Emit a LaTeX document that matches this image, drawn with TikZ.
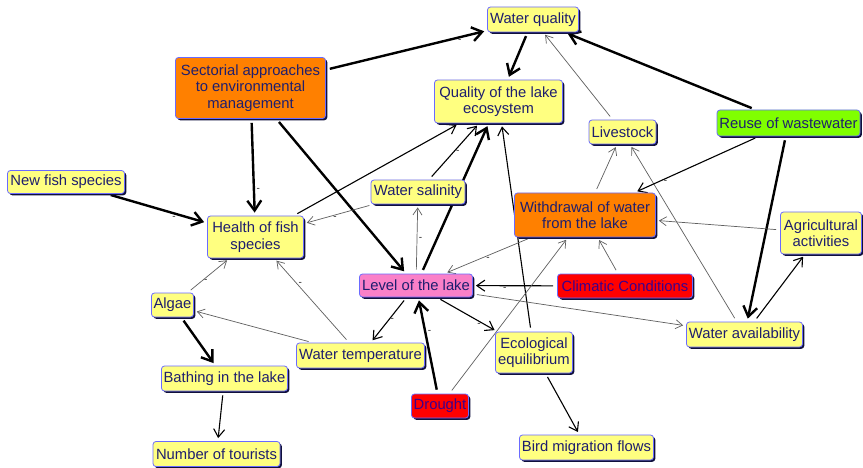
\documentclass[tikz,border=0pt]{standalone}
\usepackage{fontspec}
\setmainfont{Liberation Sans}
\usetikzlibrary{arrows.meta,shadows,backgrounds}
\definecolor{yel}{RGB}{255,255,128}
\definecolor{orng}{RGB}{255,128,0}
\definecolor{grn}{RGB}{128,255,0}
\definecolor{pnk}{RGB}{250,128,200}
\definecolor{rd}{RGB}{255,0,0}
\definecolor{bord}{RGB}{106,106,255}
\definecolor{txt}{RGB}{30,30,110}
\definecolor{txtr}{RGB}{60,0,140}
\definecolor{shd}{RGB}{16,16,60}
\definecolor{gry}{RGB}{95,95,95}
\tikzset{
  box/.style={draw=bord, line width=0.8pt, rounded corners=3pt, fill=yel, text=txt,
    font=\fontsize{14.8}{16.5}\selectfont, align=center, inner sep=1pt,
    drop shadow={shadow xshift=1.8pt, shadow yshift=-1.8pt, opacity=1, fill=shd}},
  orbox/.style={box, fill=orng},
  grbox/.style={box, fill=grn},
  pkbox/.style={box, fill=pnk},
  rdbox/.style={box, fill=rd, text=txtr},
  thk/.style={line width=2.4pt, black, shorten >=3pt, shorten <=4pt, -{Straight Barb[length=10pt,width=14pt]}},
  med/.style={line width=1.1pt, black, shorten >=3pt, shorten <=4pt, -{Straight Barb[length=8pt,width=11pt]}},
  thn/.style={line width=0.7pt, gry, shorten >=3pt, shorten <=4pt, -{Straight Barb[length=7pt,width=9pt]}},
  mk/.style={font=\fontsize{10}{10}\selectfont, text=black!85, inner sep=1.5pt},
}
\begin{document}
\begin{tikzpicture}[x=1pt,y=-1pt]
\useasboundingbox (0,0) rectangle (863,468);
% nodes
\node[box, minimum width=91pt, minimum height=25pt] (wq) at (533,19.5) {Water quality};
\node[orbox, minimum width=150pt, minimum height=61pt] (sect) at (250.5,88) {Sectorial approaches\\to environmental\\management};
\node[box, minimum width=128pt, minimum height=43pt] (qual) at (498.5,101.5) {Quality of the lake\\ecosystem};
\node[box, minimum width=67pt, minimum height=24pt] (live) at (622.5,132) {Livestock};
\node[grbox, minimum width=143pt, minimum height=26pt] (reuse) at (788.5,123) {Reuse of wastewater};
\node[box, minimum width=117pt, minimum height=23pt] (newfish) at (66,182) {New fish species};
\node[box, minimum width=96pt, minimum height=42pt] (health) at (255.5,237) {Health of fish\\species};
\node[box, minimum width=94pt, minimum height=24pt] (sal) at (418,192) {Water salinity};
\node[orbox, minimum width=141pt, minimum height=44pt] (withd) at (585,215) {Withdrawal of water\\from the lake};
\node[box, minimum width=81pt, minimum height=42pt] (agri) at (821,233) {Agricultural\\activities};
\node[pkbox, minimum width=113pt, minimum height=23pt] (level) at (416,285.5) {Level of the lake};
\node[rdbox, minimum width=135pt, minimum height=24pt] (clim) at (625,286) {Climatic Conditions};
\node[box, minimum width=42pt, minimum height=24pt] (algae) at (172.5,305) {Algae};
\node[box, minimum width=128pt, minimum height=25pt] (temp) at (360.5,355.5) {Water temperature};
\node[box, minimum width=77pt, minimum height=41pt] (eco) at (534,352.5) {Ecological\\equilibrium};
\node[box, minimum width=116pt, minimum height=25pt] (avail) at (744.5,334.5) {Water availability};
\node[box, minimum width=126pt, minimum height=25pt] (bath) at (224.5,378.5) {Bathing in the lake};
\node[rdbox, minimum width=57pt, minimum height=24pt] (drought) at (440,406) {Drought};
\node[box, minimum width=134pt, minimum height=25pt] (bird) at (586.5,447.5) {Bird migration flows};
\node[box, minimum width=127pt, minimum height=25pt] (tour) at (216.5,454) {Number of tourists};
% connectors
\begin{scope}[on background layer]
\fill[white] (0,0) rectangle (863,468);
\draw[thk] (sect) -- node[mk,pos=0.83,below]{-} (wq);
\draw[thk] (wq) -- (qual);
\draw[thn] (live) -- (wq);
\draw[thk] (reuse) -- (wq);
\draw[thk] (sect) -- node[mk,pos=0.73,right]{-} (health);
\draw[thk] (sect) -- (level);
\draw[thk] (newfish) -- node[mk,pos=0.67,below]{-} (health);
\draw[med] (health) -- (qual);
\draw[med] (sal) -- node[mk,pos=0.5,right]{-} (qual);
\draw[thn] (sal) -- node[mk,pos=0.55,below]{-} (health);
\draw[thk] (level) -- (qual);
\draw[med] (eco) -- (qual);
\draw[thn] (level) -- node[mk,pos=0.5,right]{-} (sal);
\draw[thn] (withd) -- node[mk,pos=0.5,below]{-} (level);
\draw[med] (clim) -- node[mk,pos=0.62,below]{-} (level);
\draw[thn] (clim) -- (withd);
\draw[thn] (drought) -- (withd);
\draw[thn] (withd) -- (live);
\draw[thn] (avail) -- (live);
\draw[med] (reuse) -- node[mk,pos=0.75,below]{-} (withd);
\draw[thk] (reuse) -- (avail);
\draw[thn] (agri) -- (withd);
\draw[med] (avail) -- (agri);
\draw[thn] (level) -- (avail);
\draw[med] (level) -- node[mk,pos=0.7,below]{-} (eco);
\draw[med] (level) -- node[mk,pos=0.5,right]{-} (temp);
\draw[thk] (drought) -- node[mk,pos=0.64,right]{-} (level);
\draw[thn] (temp) -- (algae);
\draw[thn] (temp) -- node[mk,pos=0.7,right]{-} (health);
\draw[thn] (algae) -- node[mk,pos=0.35,right]{-} (health);
\draw[thk] (algae) -- (bath);
\draw[med] (bath) -- (tour);
\draw[med] (eco) -- (bird);
\end{scope}
\end{tikzpicture}
\end{document}
